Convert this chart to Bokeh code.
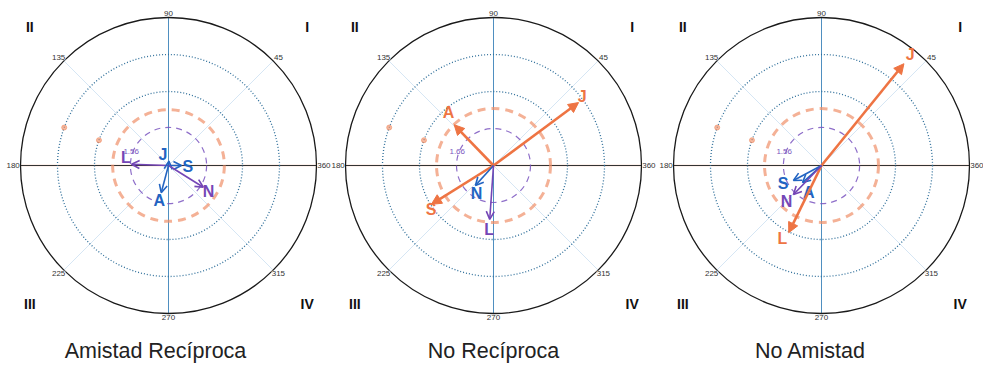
import numpy as np
from bokeh.plotting import figure
from bokeh.models import ColumnDataSource, Arrow, NormalHead, OpenHead, Range1d
from bokeh.core.properties import value
from bokeh.embed import file_html
from bokeh.resources import INLINE

# ---------------- data ----------------
titles = ["Amistad Recíproca", "No Recíproca", "No Amistad"]
vec_labels = [["L", "J", "S", "N", "A"],
              ["J", "A", "S", "N", "L"],
              ["J", "L", "S", "A", "N"]]
vec_angles = [[178, 85, 0, 328, 255],
              [36.5, 134, 212, 228, 266],
              [51, 244, 208, 222, 226]]
vec_lengths = [[1.00, 0.12, 0.35, 1.11, 0.76],
               [2.86, 1.53, 1.98, 0.73, 1.46],
               [3.54, 2.02, 0.86, 0.69, 1.09]]
vec_groups = [["p", "b", "b", "p", "b"],
              ["o", "o", "o", "b", "p"],
              ["o", "o", "b", "b", "p"]]
orange_radius = [1.51, 1.54, 1.54]
purple_radius = [1.03, 1.00, 1.03]
purple_labels = ["1.56", "1.66", "1.56"]
ring_radii = [2, 3]
outer_radius = 4
angle_ticks = [45, 90, 135, 180, 225, 270, 315, 360]
angle_tick_labels = ["45", "90", "135", "180", "225", "270", "315", "360"]
quadrant_labels = ["I", "II", "III", "IV"]
quadrant_angles = [45, 135, 225, 315]

# ---------------- layout / style ----------------
W, H = 983, 365
PX = 37.0  # pixels per unit
centers_px = [168, 493, 821]
center_y_px = 200           # from bottom
title_x_px = [155, 493, 810]
title_y_px = 15             # from bottom (middle of text)
label_offsets_px = [[(-5.7, 6.7), (-6, 6.6), (6.3, -1), (5.3, -4), (-2, -8)],
                    [(3.7, 6), (-5.7, 12.3), (-0.3, -5.3), (1, -7.7), (-0.7, -10.3)],
                    [(6.3, 9), (-6.3, -6.3), (-10.3, -2.7), (6.3, -10.3), (-7, -6.7)]]
colors = {"o": "#ee7443", "b": "#2264c2", "p": "#7446b6"}
widths = {"o": 2.6, "b": 1.6, "p": 1.6}
FONT = value("Liberation Sans")

p = figure(width=W, height=H, output_backend="svg", toolbar_location=None,
           x_range=Range1d(0, W / PX), y_range=Range1d(0, H / PX),
           min_border=0, background_fill_color="white")
p.axis.visible = False
p.grid.visible = False
p.outline_line_color = None

for k in range(3):
    cx = centers_px[k] / PX
    cy = center_y_px / PX

    # diagonal faint lines
    for a in quadrant_angles:
        t = np.deg2rad(a)
        p.line([cx, cx + outer_radius * np.cos(t)], [cy, cy + outer_radius * np.sin(t)],
               line_color="#d6e6f4", line_width=1)
    # axes
    p.line([cx - outer_radius, cx + outer_radius], [cy, cy], line_color="#f4b79a",
           line_width=3, line_alpha=0.18)
    p.line([cx - outer_radius, cx + outer_radius], [cy, cy], line_color="#333333", line_width=1.1)
    p.line([cx, cx], [cy - outer_radius, cy + outer_radius], line_color="#4f8fc0", line_width=1)

    # rings
    p.circle(x=[cx] * len(ring_radii), y=[cy] * len(ring_radii), radius=ring_radii,
             fill_color=None, line_color="#2f6f9a", line_width=1.3, line_dash="1 2")
    p.circle(x=[cx], y=[cy], radius=[outer_radius], fill_color=None,
             line_color="#1a1a1a", line_width=1.3)
    # ring markers
    t160 = np.deg2rad(160)
    p.scatter(x=[cx + r * np.cos(t160) for r in ring_radii],
              y=[cy + r * np.sin(t160) for r in ring_radii],
              size=5, color="#f08a60", alpha=0.6)

    # dashed circles
    p.circle(x=[cx], y=[cy], radius=[orange_radius[k]], fill_color=None,
             line_color="#f0906a", line_width=3, line_dash="8 6", line_alpha=0.7)
    p.circle(x=[cx], y=[cy], radius=[purple_radius[k]], fill_color=None,
             line_color="#7a55c0", line_width=1.2, line_dash="6 5", line_alpha=0.85)
    tp = np.deg2rad(159)
    rp = purple_radius[k] + 0.05
    p.text(x=[cx + rp * np.cos(tp)], y=[cy + rp * np.sin(tp)], text=[purple_labels[k]],
           text_font=FONT, text_font_size="8px", text_color="#7a55c0",
           text_align="center", text_baseline="middle")

    # angle labels
    ang = np.deg2rad(np.array(angle_ticks, dtype=float))
    p.text(x=cx + 4.2 * np.cos(ang), y=cy + 4.12 * np.sin(ang), text=angle_tick_labels,
           text_font=FONT, text_font_size="8px", text_color="#333333",
           text_align="center", text_baseline="middle",
           background_fill_color="white")

    # quadrant labels
    qa = np.deg2rad(np.array(quadrant_angles, dtype=float))
    p.text(x=cx + 5.3 * np.cos(qa), y=cy + 5.3 * np.sin(qa), text=quadrant_labels,
           text_font=FONT, text_font_size="14px", text_font_style="bold",
           text_color="#111111", text_align="center", text_baseline="middle")

    # vectors
    th = np.deg2rad(np.array(vec_angles[k], dtype=float))
    ln = np.array(vec_lengths[k], dtype=float)
    xe = cx + ln * np.cos(th)
    ye = cy + ln * np.sin(th)
    for i, g in enumerate(vec_groups[k]):
        c = colors[g]
        if g == "o":
            head = NormalHead(size=10, fill_color=c, line_color=c)
        else:
            head = OpenHead(size=8, line_color=c, line_width=1.6)
        src = ColumnDataSource(dict(x0=[cx], y0=[cy], x1=[xe[i]], y1=[ye[i]]))
        p.add_layout(Arrow(end=head, x_start="x0", y_start="y0", x_end="x1", y_end="y1",
                           source=src, line_color=c, line_width=widths[g]))
        ox, oy = label_offsets_px[k][i]
        p.text(x=[xe[i] + ox / PX], y=[ye[i] + oy / PX], text=[vec_labels[k][i]],
               text_font=FONT, text_font_size="16px", text_font_style="bold",
               text_color=c, text_align="center", text_baseline="middle")

    # title
    p.text(x=[title_x_px[k] / PX], y=[title_y_px / PX], text=[titles[k]],
           text_font=FONT, text_font_size="21.5px", text_color="#222222",
           text_align="center", text_baseline="middle")

open("out.html", "w").write(file_html(p, INLINE))
